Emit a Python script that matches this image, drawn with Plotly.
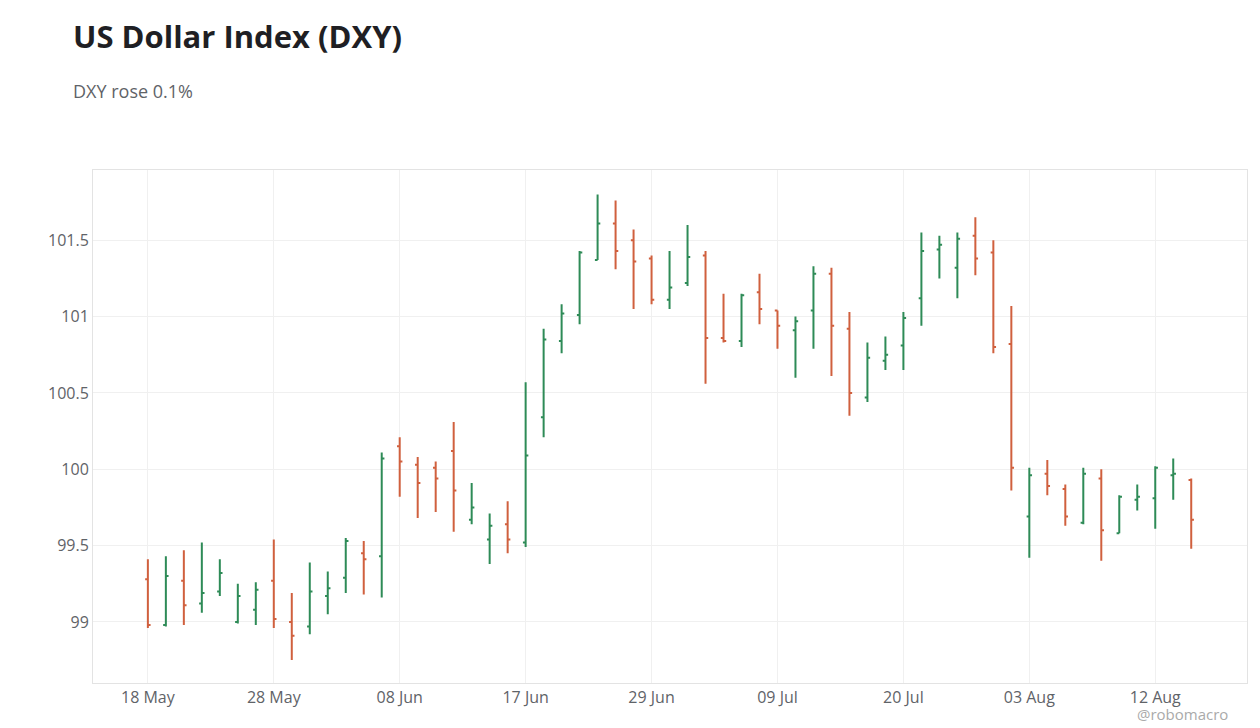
import plotly.graph_objects as go
import pandas as pd

# business days, a few market holidays / missing days dropped
days = pd.bdate_range("2020-05-18", "2020-08-14")
skip = ["2020-05-25", "2020-06-19", "2020-07-03", "2020-07-27", "2020-07-28", "2020-07-29"]
dates = [d for d in days if d.strftime("%Y-%m-%d") not in skip]
labels = [d.strftime("%d %b") for d in dates]

opens = [99.28, 98.98, 99.27, 99.12, 99.20, 99.00, 99.08, 99.27, 99.00, 98.97,
         99.17, 99.29, 99.45, 99.43, 100.15, 100.03, 100.01, 100.12, 99.67, 99.54,
         99.64, 99.52, 100.34, 100.84, 101.01, 101.37, 101.61, 101.50, 101.38, 101.11,
         101.22, 101.40, 100.86, 100.84, 101.16, 101.04, 100.91, 101.04, 101.28, 100.92,
         100.47, 100.71, 100.81, 101.12, 101.44, 101.32, 101.53, 101.42, 100.82, 99.69,
         99.97, 99.87, 99.65, 99.94, 99.58, 99.80, 99.81, 99.96, 99.93]
highs = [99.41, 99.43, 99.47, 99.52, 99.41, 99.25, 99.26, 99.54, 99.19, 99.39,
         99.33, 99.55, 99.53, 100.11, 100.21, 100.08, 100.05, 100.31, 99.91, 99.71,
         99.79, 100.57, 100.92, 101.08, 101.43, 101.80, 101.76, 101.57, 101.40, 101.43,
         101.60, 101.43, 101.15, 101.15, 101.28, 101.04, 101.00, 101.33, 101.32, 101.03,
         100.83, 100.87, 101.03, 101.55, 101.53, 101.55, 101.65, 101.50, 101.07, 100.01,
         100.06, 99.90, 100.01, 100.00, 99.83, 99.90, 100.02, 100.07, 99.94]
lows = [98.96, 98.97, 98.98, 99.06, 99.17, 98.99, 98.98, 98.96, 98.75, 98.92,
        99.05, 99.19, 99.18, 99.16, 99.82, 99.68, 99.72, 99.59, 99.64, 99.38,
        99.45, 99.49, 100.21, 100.76, 100.95, 101.37, 101.31, 101.05, 101.08, 101.05,
        101.20, 100.56, 100.83, 100.80, 100.95, 100.79, 100.60, 100.79, 100.61, 100.35,
        100.44, 100.65, 100.65, 100.94, 101.25, 101.12, 101.27, 100.76, 99.86, 99.42,
        99.83, 99.63, 99.64, 99.40, 99.58, 99.73, 99.61, 99.80, 99.48]
closes = [98.98, 99.30, 99.11, 99.19, 99.32, 99.17, 99.21, 99.02, 98.91, 99.20,
          99.22, 99.53, 99.41, 100.07, 100.05, 99.91, 99.94, 99.86, 99.75, 99.63,
          99.54, 100.09, 100.85, 101.02, 101.42, 101.61, 101.43, 101.36, 101.11, 101.19,
          101.39, 100.86, 100.84, 101.14, 101.05, 100.94, 100.97, 101.28, 100.94, 100.50,
          100.73, 100.75, 100.99, 101.43, 101.47, 101.51, 101.38, 100.80, 100.01, 99.96,
          99.89, 99.69, 99.97, 99.60, 99.82, 99.82, 100.01, 99.97, 99.67]

tick_labels = ["18 May", "28 May", "08 Jun", "17 Jun", "29 Jun", "09 Jul", "20 Jul", "03 Aug", "12 Aug"]
tick_pos = [labels[i] for i in range(0, 57, 7)]

fig = go.Figure(go.Ohlc(
    x=labels, open=opens, high=highs, low=lows, close=closes,
    increasing=dict(line=dict(color="#2e8b57", width=2)),
    decreasing=dict(line=dict(color="#d0603e", width=2)),
    tickwidth=0.15, showlegend=False,
))

fig.update_layout(
    width=1260, height=728,
    paper_bgcolor="white", plot_bgcolor="white",
    margin=dict(l=85, r=21, t=162, b=53),
    font=dict(family="Open Sans", color="#5f6368"),
    xaxis=dict(type="category", rangeslider=dict(visible=False),
               range=[-3.05, len(labels) + 2.1],
               tickmode="array", tickvals=tick_pos, ticktext=tick_labels,
               showgrid=True, gridcolor="#f0f0f0", tickfont=dict(size=16),
               showline=True, linecolor="#e3e3e3", mirror=True, ticks=""),
    yaxis=dict(range=[98.6, 101.96], tickvals=[99, 99.5, 100, 100.5, 101, 101.5],
               ticktext=["99", "99.5", "100", "100.5", "101", "101.5"],
               showgrid=True, gridcolor="#f0f0f0", tickfont=dict(size=16),
               showline=True, linecolor="#e3e3e3", mirror=True, zeroline=False),
    annotations=[
        dict(text="<b>US Dollar Index (DXY)</b>", xref="paper", yref="paper",
             x=-0.019, y=1.262, xanchor="left", yanchor="middle", showarrow=False,
             font=dict(size=31, color="#1f1f24")),
        dict(text="DXY rose 0.1%", xref="paper", yref="paper", x=-0.019, y=1.154,
             xanchor="left", yanchor="middle", showarrow=False,
             font=dict(size=18, color="#5f6368")),
        dict(text="@robomacro", xref="paper", yref="paper", x=0.985, y=-0.06,
             xanchor="right", yanchor="middle", showarrow=False,
             font=dict(size=15, color="#aaaaaa")),
    ],
)

fig.write_html("out.html")
